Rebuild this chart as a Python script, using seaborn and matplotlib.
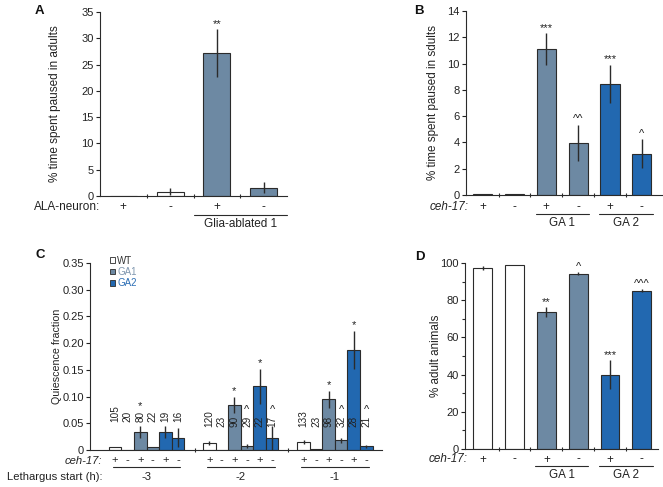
import numpy as np
import pandas as pd
import matplotlib
matplotlib.use("Agg")
import matplotlib.pyplot as plt
import seaborn as sns
from matplotlib.transforms import blended_transform_factory
from matplotlib.patches import Patch

# ---------------- data ----------------
# Panel A
a_signs = ["+", "-", "+", "-"]
a_groups = ["WT", "WT", "GA1", "GA1"]
a_values = [0.0, 0.8, 27.2, 1.6]
a_errors = [0.0, 0.7, 4.5, 1.0]
a_marks = ["", "", "**", ""]

# Panel B
b_signs = ["+", "-", "+", "-", "+", "-"]
b_groups = ["WT", "WT", "GA1", "GA1", "GA2", "GA2"]
b_values = [0.1, 0.1, 11.1, 3.95, 8.45, 3.15]
b_errors = [0.0, 0.0, 1.2, 1.4, 1.45, 1.1]
b_marks = ["", "", "***", "^^", "***", "^"]

# Panel C
c_times = ["-3", "-2", "-1"]
c_conditions = ["WT+", "WT-", "GA1+", "GA1-", "GA2+", "GA2-"]
c_signs = ["+", "-", "+", "-", "+", "-"]
c_values_m3 = [0.005, 0.0, 0.033, 0.005, 0.033, 0.023]
c_values_m2 = [0.013, 0.0, 0.085, 0.008, 0.119, 0.022]
c_values_m1 = [0.015, 0.002, 0.095, 0.018, 0.187, 0.007]
c_errors_m3 = [0.0, 0.0, 0.011, 0.0, 0.011, 0.018]
c_errors_m2 = [0.004, 0.0, 0.015, 0.004, 0.033, 0.022]
c_errors_m1 = [0.003, 0.0, 0.016, 0.005, 0.036, 0.003]
c_n_m3 = [105, 20, 80, 22, 19, 16]
c_n_m2 = [120, 23, 90, 29, 22, 17]
c_n_m1 = [133, 23, 98, 32, 28, 21]
c_marks_m3 = ["", "", "*", "", "", ""]
c_marks_m2 = ["", "", "*", "^", "*", "^"]
c_marks_m1 = ["", "", "*", "^", "*", "^"]

# Panel D
d_signs = ["+", "-", "+", "-", "+", "-"]
d_groups = ["WT", "WT", "GA1", "GA1", "GA2", "GA2"]
d_values = [97.5, 98.7, 73.5, 94.2, 40.0, 85.0]
d_errors = [1.0, 0.0, 2.7, 0.8, 7.7, 0.8]
d_marks = ["", "", "**", "^", "***", "^^^"]

# ---------------- style ----------------
sns.set_style("ticks")
plt.rcParams["font.family"] = ["Liberation Sans", "DejaVu Sans"]
plt.rcParams["axes.linewidth"] = 0.8

WHITE = "#ffffff"
GA1C = "#6d89a3"
GA2C = "#2268b0"
EDGE = "#2b2b2b"
TXT = "#222222"
PALETTE = {"WT": WHITE, "GA1": GA1C, "GA2": GA2C}
TICKFS = 8
MARKFS = 8

W, H = 663, 487
fig = plt.figure(figsize=(W / 100, H / 100), dpi=100)


def fy(y):
    return 1 - y / H


def axes_px(l, t, r, b):
    return fig.add_axes([l / W, 1 - b / H, (r - l) / W, (b - t) / H])


def btr(ax):
    return blended_transform_factory(ax.transData, fig.transFigure)


def under_texts(ax, xs, texts, y_px, fs, **kw):
    for x, t in zip(xs, texts):
        ax.text(x, fy(y_px), t, transform=btr(ax), ha="center", va="center",
                fontsize=fs, color=TXT, clip_on=False, **kw)


def group_line(ax, x0, x1, y_px):
    ax.plot([x0, x1], [fy(y_px), fy(y_px)], transform=btr(ax), color=EDGE,
            lw=0.8, clip_on=False)


def style_axes(ax, xlim, ylim, yticks, yticklabels, ylabel, labelx, boundaries, lfs):
    ax.set_xlim(xlim)
    ax.set_ylim(ylim)
    ax.set_yticks(yticks)
    ax.set_yticklabels(yticklabels)
    ax.set_xlabel("")
    ax.set_ylabel(ylabel, fontsize=lfs, color=TXT)
    ax.yaxis.set_label_coords(labelx, 0.5)
    ax.set_xticks([])
    ax.set_xticks(boundaries, minor=True)
    ax.tick_params(axis="x", which="minor", length=3, width=0.8, direction="inout", color=EDGE)
    ax.tick_params(axis="y", which="major", length=3, width=0.8, pad=1.5,
                   labelsize=TICKFS, colors=TXT)
    for s in ["left", "bottom"]:
        ax.spines[s].set_color(EDGE)
    sns.despine(ax=ax)


def simple_bars(ax, values, errors, groups, marks, width=0.58):
    pos = np.arange(len(values))
    df = pd.DataFrame({"pos": pos, "val": values, "grp": groups})
    sns.barplot(data=df, x="pos", y="val", hue="grp", palette=PALETTE, dodge=False,
                width=width, edgecolor=EDGE, linewidth=0.8, saturation=1,
                legend=False, ax=ax)
    ax.errorbar(pos, values, yerr=errors, fmt="none", ecolor=EDGE, elinewidth=1.0, capsize=0)
    for x, v, e, m in zip(pos, values, errors, marks):
        if m:
            ax.annotate(m, (x, v + e), xytext=(0, 0.3), textcoords="offset points",
                        ha="center", va="bottom", fontsize=MARKFS, color=TXT)
    return pos


# ---------------- Panel A ----------------
FSA = 8.5
axA = axes_px(100, 12, 287, 196)
posA = simple_bars(axA, a_values, a_errors, a_groups, a_marks)
under_texts(axA, posA, a_signs, 207, FSA)
axA.text(-0.5, fy(207), "ALA-neuron:", transform=btr(axA), ha="right", va="center",
         fontsize=FSA, color=TXT)
group_line(axA, 1.5, 3.5, 215)
under_texts(axA, [2.5], ["Glia-ablated 1"], 224, FSA)
style_axes(axA, (-0.5, 3.5), (0, 35), np.arange(0, 36, 5), [str(v) for v in range(0, 36, 5)],
           "% time spent paused in adults", -0.207, [0.5, 1.5, 2.5], FSA)

# ---------------- Panel B ----------------
FSB = 8.4
axB = axes_px(466, 11, 662, 195)
posB = simple_bars(axB, b_values, b_errors, b_groups, b_marks, width=0.6)
under_texts(axB, posB, b_signs, 207, FSB)
axB.text(-0.45, fy(207), "ceh-17:", transform=btr(axB), ha="right", va="center",
         fontsize=FSB, color=TXT, style="italic")
group_line(axB, 1.68, 3.35, 214)
group_line(axB, 3.66, 5.36, 214)
under_texts(axB, [2.5, 4.5], ["GA 1", "GA 2"], 223, FSB)
style_axes(axB, (-0.52, 5.63), (0, 14), np.arange(0, 15, 2), [str(v) for v in range(0, 15, 2)],
           "% time spent paused in sdults", -0.138, [0.5, 1.5, 2.5, 3.5, 4.5], FSB)

# ---------------- Panel C ----------------
FSC = 8.1
axC = axes_px(90, 263, 382, 450)
c_vals = [c_values_m3, c_values_m2, c_values_m1]
c_errs = [c_errors_m3, c_errors_m2, c_errors_m1]
c_ns = [c_n_m3, c_n_m2, c_n_m1]
c_mks = [c_marks_m3, c_marks_m2, c_marks_m1]
rows = []
for t, vals in zip(c_times, c_vals):
    for cnd, v in zip(c_conditions, vals):
        rows.append({"time": t, "cond": cnd, "val": v})
dfC = pd.DataFrame(rows)
c_pal = {"WT+": WHITE, "WT-": WHITE, "GA1+": GA1C, "GA1-": GA1C, "GA2+": GA2C, "GA2-": GA2C}
sns.barplot(data=dfC, x="time", y="val", hue="cond", order=c_times, hue_order=c_conditions,
            palette=c_pal, width=0.8, edgecolor=EDGE, linewidth=0.8, saturation=1,
            legend=False, ax=axC)
centers = np.zeros((len(c_conditions), len(c_times)))
for h, cont in enumerate(axC.containers):
    for g, bar in enumerate(cont):
        centers[h, g] = bar.get_x() + bar.get_width() / 2

label_bottom = [0.052, 0.043, 0.043]
label_texts = []
for g in range(len(c_times)):
    xs = centers[:, g]
    axC.errorbar(xs, c_vals[g], yerr=c_errs[g], fmt="none", ecolor=EDGE, elinewidth=1.0, capsize=0)
    for h in range(len(c_conditions)):
        tx = axC.text(xs[h], label_bottom[g], str(c_ns[g][h]), rotation=90, ha="center",
                      va="bottom", fontsize=7.2, color=TXT)
        label_texts.append((g, h, tx))
    under_texts(axC, xs, c_signs, 460.5, FSC)
    group_line(axC, g - 0.36, g + 0.36, 466.5)
    under_texts(axC, [g], [c_times[g]], 477, FSC)

axC.text(-0.47, fy(460.5), "ceh-17:", transform=btr(axC), ha="right", va="center",
         fontsize=FSC, color=TXT, style="italic")
axC.text(-0.47, fy(477), "Lethargus start (h):", transform=btr(axC), ha="right", va="center",
         fontsize=FSC, color=TXT)
style_axes(axC, (-0.6, 2.5), (0, 0.35), np.arange(0, 0.351, 0.05),
           ["0", "0.05", "0.10", "0.15", "0.20", "0.25", "0.30", "0.35"],
           "Quiescence fraction", -0.097, [0.52, 1.5], 7.7)

fig.canvas.draw()
inv = axC.transData.inverted()
for g, h, tx in label_texts:
    m = c_mks[g][h]
    if not m:
        continue
    bb = tx.get_window_extent()
    top = inv.transform((0, bb.y1))[1]
    base = max(top, c_vals[g][h] + c_errs[g][h])
    axC.annotate(m, (centers[h, g], base), xytext=(0, 0.3), textcoords="offset points",
                 ha="center", va="bottom", fontsize=MARKFS, color=TXT)

handles = [Patch(facecolor=WHITE, edgecolor=EDGE, linewidth=0.6),
           Patch(facecolor=GA1C, edgecolor=EDGE, linewidth=0.6),
           Patch(facecolor=GA2C, edgecolor=EDGE, linewidth=0.6)]
axC.legend(handles, ["WT", "GA1", "GA2"], loc="upper left", bbox_to_anchor=(0.07, 1.04),
           frameon=False, fontsize=7, handlelength=0.5, handleheight=0.5, handletextpad=0.2,
           labelspacing=0.15, borderpad=0, borderaxespad=0,
           labelcolor=["#333333", "#8198b0", "#2d6fb5"])

# ---------------- Panel D ----------------
FSD = 8.4
axD = axes_px(465, 263, 658, 449)
posD = simple_bars(axD, d_values, d_errors, d_groups, d_marks, width=0.59)
under_texts(axD, posD, d_signs, 459.5, FSD)
axD.text(-0.47, fy(459.5), "ceh-17:", transform=btr(axD), ha="right", va="center",
         fontsize=FSD, color=TXT, style="italic")
group_line(axD, 1.64, 3.31, 466)
group_line(axD, 3.65, 5.35, 466)
under_texts(axD, [2.5, 4.5], ["GA 1", "GA 2"], 475, FSD)
style_axes(axD, (-0.56, 5.51), (0, 100), np.arange(0, 101, 20), [str(v) for v in range(0, 101, 20)],
           "% adult animals", -0.12, [0.5, 1.5, 2.5, 3.5, 4.5], FSD)
axD.set_yticks(np.arange(10, 100, 20), minor=True)
axD.tick_params(axis="y", which="minor", length=2, width=0.8, color=EDGE)

# ---------------- panel letters ----------------
for lbl, x, y in [("A", 39, 11), ("B", 419, 11), ("C", 40, 255), ("D", 420, 257)]:
    fig.text(x / W, fy(y), lbl, fontsize=9.5, fontweight="bold", ha="center", va="center", color="#111111")

fig.savefig("out.png", dpi=100)
